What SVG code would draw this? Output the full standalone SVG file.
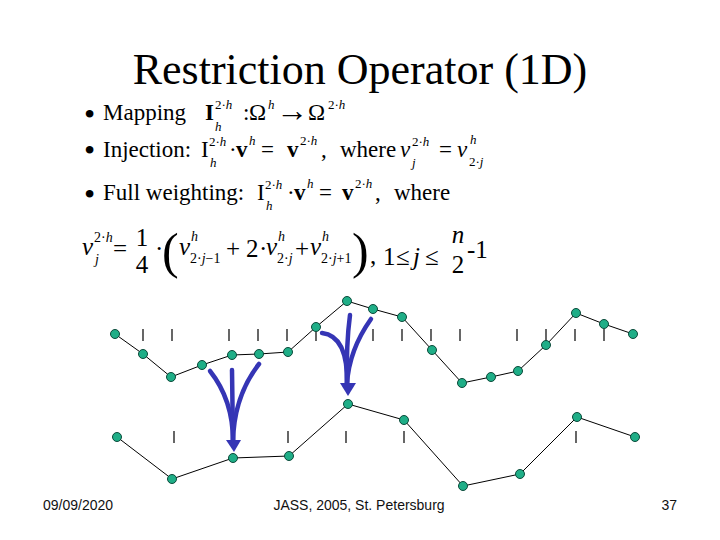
<svg xmlns="http://www.w3.org/2000/svg" width="720" height="540" viewBox="0 0 720 540">
<style>
text{font-family:"Liberation Serif","Times New Roman",serif;fill:#000}
.t{font-size:44px}
.m{font-size:23px}
.bl{font-size:32px}
.s{font-size:13px}
.q{font-size:25px}
.qs{font-size:14px}
.i{font-style:italic}
.b{font-weight:bold}
.big{font-size:50px}
.f{font-family:"Liberation Sans",Arial,sans-serif;font-size:14px;fill:#111}
.ln{fill:none;stroke:#000;stroke-width:1}
.tk{stroke:#000;stroke-width:1.2}
.nd{fill:#1fae87;stroke:#0b4a3a;stroke-width:1}
.ar{fill:none;stroke:#3535b5;stroke-width:4.5;stroke-linecap:round}
.ah{fill:#3535b5}
</style>
<rect width="720" height="540" fill="#fff"/>
<g id="title"><text class="t" x="360" y="84" text-anchor="middle">Restriction Operator (1D)</text></g>

<g id="line1">
<text class="bl" x="84" y="125">•</text>
<text class="m" x="103" y="120">Mapping</text>
<text class="m b" x="205" y="120">I</text>
<text class="s" x="215" y="109">2·<tspan class="i">h</tspan></text>
<text class="s i" x="215" y="131">h</text>
<text class="m" x="243" y="120">:</text>
<text class="m" x="249" y="120">Ω</text>
<text class="s i" x="268" y="109">h</text>
<text class="m" x="276" y="121" style="font-size:32px">→</text>
<text class="m" x="308" y="120">Ω</text>
<text class="s" x="328" y="109">2·<tspan class="i">h</tspan></text>
</g>

<g id="line2">
<text class="bl" x="84" y="161">•</text>
<text class="m" x="103" y="157">Injection:</text>
<text class="m" x="201" y="157">I</text>
<text class="s" x="209" y="146">2·<tspan class="i">h</tspan></text>
<text class="s i" x="210" y="167">h</text>
<text class="m" x="229" y="157">·</text>
<text class="m b" x="236" y="157">v</text>
<text class="s i" x="249" y="145">h</text>
<text class="m" x="261" y="157">=</text>
<text class="m b" x="287" y="157">v</text>
<text class="s" x="300" y="145">2·<tspan class="i">h</tspan></text>
<text class="m" x="321" y="157">,</text>
<text class="m" x="340" y="157">where</text>
<text class="m i" x="400" y="157">v</text>
<text class="s" x="412" y="146">2·<tspan class="i">h</tspan></text>
<text class="s i" x="412" y="167">j</text>
<text class="m" x="439" y="157">=</text>
<text class="m i" x="457" y="157">v</text>
<text class="s i" x="470" y="144">h</text>
<text class="s" x="469" y="166">2·<tspan class="i">j</tspan></text>
</g>

<g id="line3">
<text class="bl" x="84" y="205">•</text>
<text class="m" x="103" y="200">Full weighting:</text>
<text class="m" x="257" y="200">I</text>
<text class="s" x="265" y="189">2·<tspan class="i">h</tspan></text>
<text class="s i" x="266" y="210">h</text>
<text class="m" x="287" y="200">·</text>
<text class="m b" x="294" y="200">v</text>
<text class="s i" x="307" y="188">h</text>
<text class="m" x="319" y="200">=</text>
<text class="m b" x="342" y="200">v</text>
<text class="s" x="355" y="188">2·<tspan class="i">h</tspan></text>
<text class="m" x="375" y="200">,</text>
<text class="m" x="394" y="200">where</text>
</g>

<g id="line4">
<text class="q i" x="82" y="255">v</text>
<text class="qs" x="94" y="242">2·<tspan class="i">h</tspan></text>
<text class="qs i" x="95" y="264">j</text>
<text class="q" x="113" y="257">=</text>
<text class="q" x="142" y="246" text-anchor="middle">1</text>
<text class="q" x="142" y="273" text-anchor="middle">4</text>
<text class="q" x="155" y="257">·</text>
<text class="big" x="162" y="268">(</text>
<text class="q i" x="179" y="255">v</text>
<text class="qs i" x="191" y="241">h</text>
<text class="qs" x="190" y="263">2·<tspan class="i">j</tspan>−1</text>
<text class="q" x="226" y="257">+</text>
<text class="q" x="246" y="257">2</text>
<text class="q" x="259" y="257">·</text>
<text class="q i" x="266" y="255">v</text>
<text class="qs i" x="278" y="241">h</text>
<text class="qs" x="277" y="263">2·<tspan class="i">j</tspan></text>
<text class="q" x="295" y="257">+</text>
<text class="q i" x="310" y="255">v</text>
<text class="qs i" x="322" y="241">h</text>
<text class="qs" x="321" y="263">2·<tspan class="i">j</tspan>+1</text>
<text class="big" x="352" y="268">)</text>
<text class="q" x="370" y="264">,</text>
<text class="q" x="383" y="265">1</text>
<text class="q" x="396" y="265">≤</text>
<text class="q i" x="413" y="265">j</text>
<text class="q" x="425" y="265">≤</text>
<text class="q i" x="458" y="243" text-anchor="middle">n</text>
<text class="q" x="458" y="273" text-anchor="middle">2</text>
<text class="q" x="467" y="258">-1</text>
</g>

<g id="connectors">
<polyline class="ln" points="115,334 143,354 171,377 202,365 232,355 259,354 288,352 316,327 347,301 373,309 402,317 432,350 462,383 491,377 518,371 546,345 576,313 604,324 633,334"/>
<polyline class="ln" points="117,437 172,479 233,458 289,456 348,404 404,420 463,486 520,474 577,417 635,437"/>
<g class="tk">
<line x1="143" y1="329" x2="143" y2="341"/><line x1="172" y1="329" x2="172" y2="341"/>
<line x1="229" y1="329" x2="229" y2="341"/><line x1="258" y1="329" x2="258" y2="341"/>
<line x1="287" y1="329" x2="287" y2="341"/><line x1="316" y1="329" x2="316" y2="341"/>
<line x1="373" y1="329" x2="373" y2="341"/><line x1="402" y1="329" x2="402" y2="341"/>
<line x1="431" y1="329" x2="431" y2="341"/><line x1="460" y1="329" x2="460" y2="341"/>
<line x1="517" y1="329" x2="517" y2="341"/><line x1="546" y1="329" x2="546" y2="341"/>
<line x1="575" y1="329" x2="575" y2="341"/><line x1="604" y1="329" x2="604" y2="341"/>
<line x1="174" y1="431" x2="174" y2="443"/><line x1="288" y1="431" x2="288" y2="443"/>
<line x1="346" y1="431" x2="346" y2="443"/><line x1="404" y1="431" x2="404" y2="443"/>
<line x1="576" y1="431" x2="576" y2="443"/>
</g>
<path class="ar" d="M210,371 Q233,400 233,441"/>
<path class="ar" d="M232,370 L233,441"/>
<path class="ar" d="M259,364 Q234,396 233,441"/>
<polygon class="ah" points="226,440 241,440 234,452"/>
<path class="ar" d="M322,333 Q348,336 347,384"/>
<path class="ar" d="M350,315 Q346,345 347,384"/>
<path class="ar" d="M371,319 Q349,350 347,384"/>
<polygon class="ah" points="340,383 356,383 348,396"/>
</g>

<g id="fine-nodes">
<circle class="nd" cx="115" cy="334" r="4.5"/><circle class="nd" cx="143" cy="354" r="4.5"/>
<circle class="nd" cx="171" cy="377" r="4.5"/><circle class="nd" cx="202" cy="365" r="4.5"/>
<circle class="nd" cx="232" cy="355" r="4.5"/><circle class="nd" cx="259" cy="354" r="4.5"/>
<circle class="nd" cx="288" cy="352" r="4.5"/><circle class="nd" cx="316" cy="327" r="4.5"/>
<circle class="nd" cx="347" cy="301" r="4.5"/><circle class="nd" cx="373" cy="309" r="4.5"/>
<circle class="nd" cx="402" cy="317" r="4.5"/><circle class="nd" cx="432" cy="350" r="4.5"/>
<circle class="nd" cx="462" cy="383" r="4.5"/><circle class="nd" cx="491" cy="377" r="4.5"/>
<circle class="nd" cx="518" cy="371" r="4.5"/><circle class="nd" cx="546" cy="345" r="4.5"/>
<circle class="nd" cx="576" cy="313" r="4.5"/><circle class="nd" cx="604" cy="324" r="4.5"/>
<circle class="nd" cx="633" cy="334" r="4.5"/>
</g>
<g id="coarse-nodes">
<circle class="nd" cx="117" cy="437" r="4.5"/><circle class="nd" cx="172" cy="479" r="4.5"/>
<circle class="nd" cx="233" cy="458" r="4.5"/><circle class="nd" cx="289" cy="456" r="4.5"/>
<circle class="nd" cx="348" cy="404" r="4.5"/><circle class="nd" cx="404" cy="420" r="4.5"/>
<circle class="nd" cx="463" cy="486" r="4.5"/><circle class="nd" cx="520" cy="474" r="4.5"/>
<circle class="nd" cx="577" cy="417" r="4.5"/><circle class="nd" cx="635" cy="437" r="4.5"/>
</g>

<g id="footer">
<text class="f" x="43" y="510">09/09/2020</text>
<text class="f" x="359" y="510" text-anchor="middle">JASS, 2005, St. Petersburg</text>
<text class="f" x="677" y="510" text-anchor="end">37</text>
</g>
</svg>
